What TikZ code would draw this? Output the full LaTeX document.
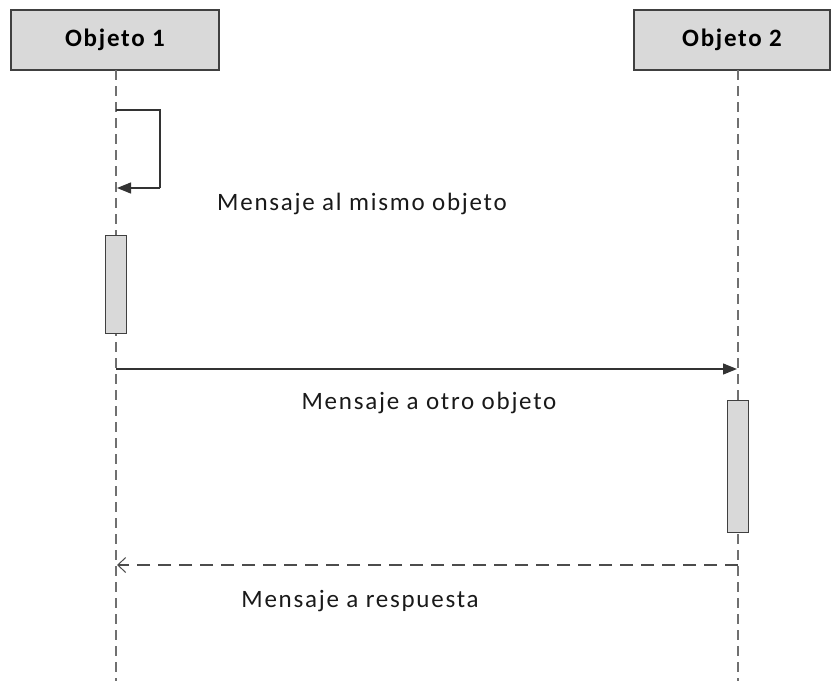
\documentclass[tikz,border=0pt]{standalone}
\usepackage{fontspec}
\setmainfont{Carlito}[LetterSpace=7]
\usetikzlibrary{arrows.meta}
\definecolor{boxfill}{HTML}{D9D9D9}
\definecolor{boxline}{HTML}{404040}
\definecolor{lifeline}{HTML}{707070}
\tikzset{
  objbox/.style={draw=boxline, line width=1.3pt, fill=boxfill, minimum height=60pt, inner sep=0pt, font=\bfseries\fontsize{25}{28}\selectfont},
  actbox/.style={draw=boxline, line width=1pt, fill=boxfill, minimum width=21pt, inner sep=0pt},
  life/.style={lifeline, line width=2.3pt, dash pattern=on 10pt off 6pt},
  msg/.style={black!80, line width=1.3pt, -{Triangle[length=14pt,width=11pt]}},
  ret/.style={black!70, line width=1.3pt, dash pattern=on 13pt off 8pt, -{Straight Barb[length=8pt,width=15pt,line width=1pt]}},
  lbl/.style={font=\fontsize{25}{28}\selectfont, inner sep=0pt, text=black!90}
}
\begin{document}
\begin{tikzpicture}[x=1pt,y=-1pt]
\useasboundingbox (0,0) rectangle (831,681);
\node[objbox, minimum width=208pt] (o1) at (115,40) {Objeto 1};
\node[objbox, minimum width=196pt] (o2) at (732,40) {Objeto 2};
\coordinate (l1top) at (116,70);
\coordinate (l1bot) at (116,681);
\coordinate (l2top) at (738,70);
\coordinate (l2bot) at (738,681);
\draw[life] (l1top) -- (l1bot);
\draw[life] (l2top) -- (l2bot);
\node[actbox, minimum height=98pt] (a1) at (116,284) {};
\node[actbox, minimum height=132pt] (a2) at (738,466) {};
% self message
\coordinate (s0) at (116,110);
\coordinate (s1) at (160,110);
\coordinate (s2) at (160,188);
\coordinate (s3) at (117,188);
\draw[msg, -] (s0) -- (s1) -- (s2);
\draw[msg] (s2) -- (s3);
\node[lbl] (t1) at (362,204) {Mensaje al mismo objeto};
% message to other
\coordinate (m0) at (116,369);
\coordinate (m1) at (737,369);
\draw[msg] (m0) -- (m1);
\node[lbl] (t2) at (429,403) {Mensaje a otro objeto};
% return
\coordinate (r0) at (738,565);
\coordinate (r1) at (117,565);
\draw[ret] (r0) -- (r1);
\node[lbl] (t3) at (360,601) {Mensaje a respuesta};
\end{tikzpicture}
\end{document}
